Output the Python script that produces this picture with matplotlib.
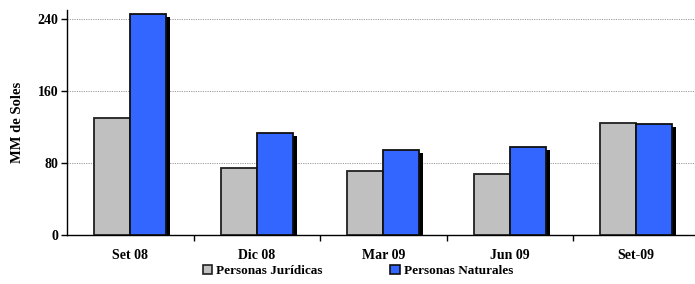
import matplotlib
matplotlib.use("Agg")
import matplotlib.pyplot as plt
import matplotlib.patheffects as pe
from matplotlib.patches import Patch
import numpy as np

categories = ["Set 08", "Dic 08", "Mar 09", "Jun 09", "Set-09"]
juridicas = [130, 75, 71, 68, 124.5]
naturales = [245.5, 113, 94, 98, 123.5]
yticks = [0, 80, 160, 240]

plt.rcParams['font.family'] = ['Liberation Serif', 'DejaVu Serif']
plt.rcParams['font.weight'] = 'bold'

W, H = 695, 284
fig = plt.figure(figsize=(W/100, H/100), dpi=100)
ax = fig.add_axes([67/W, (H-235)/H, 632.5/W, 225/H])

x = np.arange(len(categories))
bw = 0.285
shadow = [pe.SimplePatchShadow(offset=(3, -2.2), shadow_rgbFace='black', alpha=1.0), pe.Normal()]
ax.bar(x - bw/2, juridicas, bw, color='#c0c0c0', edgecolor='#202020', linewidth=1.3,
       zorder=3, path_effects=shadow)
ax.bar(x + bw/2, naturales, bw, color='#3366ff', edgecolor='#101010', linewidth=1.3,
       zorder=3, path_effects=shadow)

ax.set_xlim(-0.5, len(categories) - 0.5)
ax.set_ylim(0, 250)
ax.set_yticks(yticks)
ax.set_yticklabels([str(v) for v in yticks], fontsize=10, fontweight='bold')
for v in yticks[1:]:
    ax.axhline(v, color='#999999', linestyle=(0, (1.2, 1.2)), linewidth=0.7, zorder=1)

ax.set_xticks(x)
ax.set_xticklabels(categories, fontsize=10, fontweight='bold')
ax.tick_params(axis='x', which='major', length=0, pad=10)
ax.set_xticks(np.arange(len(categories)) + 0.5, minor=True)
ax.tick_params(axis='x', which='minor', length=4, direction='out', width=1)
ax.tick_params(axis='y', length=4, width=1, pad=2)

for s in ['top', 'right']:
    ax.spines[s].set_visible(False)
ax.spines['left'].set_linewidth(1.0)
ax.spines['bottom'].set_linewidth(1.0)

ax.set_ylabel('MM de Soles', fontsize=10.5, fontweight='bold', labelpad=10)

h1 = Patch(facecolor='#c0c0c0', edgecolor='#202020', linewidth=1.2, label='Personas Jurídicas')
h2 = Patch(facecolor='#3366ff', edgecolor='#101010', linewidth=1.2, label='Personas Naturales')
fig.legend(handles=[h1, h2], loc='center', bbox_to_anchor=(358/W, 1 - 271/H), ncol=2,
           frameon=False, prop={'weight': 'bold', 'size': 9.5},
           handlelength=0.75, handleheight=0.75, handletextpad=0.3, columnspacing=5.1)

fig.savefig('out.png', dpi=100)
